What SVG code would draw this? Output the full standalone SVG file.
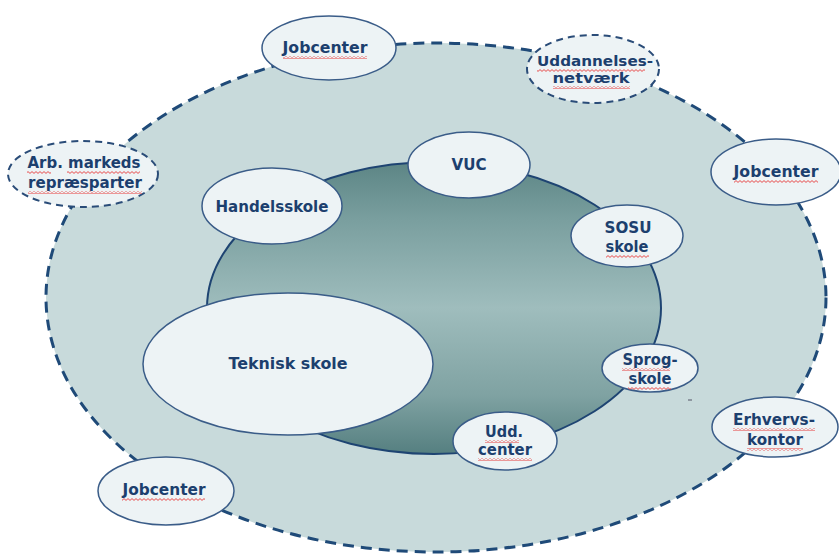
<svg xmlns="http://www.w3.org/2000/svg" width="839" height="554" viewBox="0 0 839 554">
<defs>
<linearGradient id="inner" x1="0" y1="0" x2="0" y2="1">
<stop offset="0" stop-color="#5c8585"/>
<stop offset="0.2" stop-color="#7a9f9f"/>
<stop offset="0.5" stop-color="#9fbdbd"/>
<stop offset="0.8" stop-color="#7fa2a2"/>
<stop offset="1" stop-color="#557f80"/>
</linearGradient>
<pattern id="squig" patternUnits="userSpaceOnUse" width="4" height="3">
<path d="M0,0.6 L2,2.4 L4,0.6" fill="none" stroke="#e83a3a" stroke-width="0.9"/>
</pattern>
<style>
.outer{fill:#c8dadb;stroke:#1f4a78;stroke-width:3;stroke-dasharray:11 7}
.ring{fill:url(#inner);stroke:#1e4472;stroke-width:2}
.node{fill:#edf3f5;stroke:#3a5c88;stroke-width:1.5}
.dnode{fill:#edf3f5;stroke:#2a4c78;stroke-width:2;stroke-dasharray:7 5}
.t{font-family:"DejaVu Sans","Verdana",sans-serif;font-weight:bold;font-size:15px;fill:#1c3f6e;text-anchor:middle}
.s{font-size:13.5px}
.sq{fill:url(#squig)}
</style>
</defs>
<g id="background">
<ellipse class="outer" cx="436" cy="297.5" rx="390" ry="254.5"/>
<ellipse class="ring" cx="434" cy="308" rx="227" ry="146"/>
<line x1="688" y1="400" x2="692" y2="400" stroke="#556" stroke-width="1"/>
</g>
<g id="connectors"></g>
<g id="jobcenter-top">
<ellipse class="node" cx="329" cy="48" rx="67" ry="32"/>
<text class="t" x="325" y="53" textLength="85" lengthAdjust="spacingAndGlyphs">Jobcenter</text>
<rect class="sq" x="283" y="56" width="84" height="3"/>
</g>
<g id="uddannelsesnetvaerk">
<ellipse class="dnode" cx="593" cy="69" rx="66" ry="34"/>
<text class="t s" x="595" y="66" textLength="116" lengthAdjust="spacingAndGlyphs">Uddannelses-</text>
<text class="t s" x="591" y="83" textLength="77" lengthAdjust="spacingAndGlyphs">netværk</text>
<rect class="sq" x="537" y="69" width="108" height="3"/>
<rect class="sq" x="553" y="86" width="77" height="3"/>
</g>
<g id="arb-markeds">
<ellipse class="dnode" cx="83" cy="174" rx="75" ry="33"/>
<text class="t" x="84" y="168" textLength="113" lengthAdjust="spacingAndGlyphs">Arb. markeds</text>
<text class="t" x="85" y="188" textLength="114" lengthAdjust="spacingAndGlyphs">repræsparter</text>
<rect class="sq" x="27" y="171" width="24" height="3"/>
<rect class="sq" x="67" y="171" width="73" height="3"/>
<rect class="sq" x="28" y="191" width="114" height="3"/>
</g>
<g id="handelsskole">
<ellipse class="node" cx="272" cy="206" rx="70" ry="38"/>
<text class="t" x="272" y="212" textLength="113" lengthAdjust="spacingAndGlyphs">Handelsskole</text>
</g>
<g id="vuc">
<ellipse class="node" cx="469" cy="165" rx="61" ry="33"/>
<text class="t" x="469" y="170" textLength="35" lengthAdjust="spacingAndGlyphs">VUC</text>
</g>
<g id="jobcenter-right">
<ellipse class="node" cx="776" cy="172" rx="65" ry="33"/>
<text class="t" x="776" y="177" textLength="85" lengthAdjust="spacingAndGlyphs">Jobcenter</text>
<rect class="sq" x="734" y="180" width="84" height="3"/>
</g>
<g id="sosu-skole">
<ellipse class="node" cx="627" cy="236" rx="56" ry="31"/>
<text class="t" x="628" y="233" textLength="47" lengthAdjust="spacingAndGlyphs">SOSU</text>
<text class="t" x="627" y="252" textLength="43" lengthAdjust="spacingAndGlyphs">skole</text>
<rect class="sq" x="606" y="255" width="43" height="3"/>
</g>
<g id="teknisk-skole">
<ellipse class="node" cx="288" cy="364" rx="145" ry="71"/>
<text class="t" x="288" y="369" textLength="119" lengthAdjust="spacingAndGlyphs">Teknisk skole</text>
</g>
<g id="sprogskole">
<ellipse class="node" cx="650" cy="368" rx="48" ry="24"/>
<text class="t" x="650" y="365" textLength="55" lengthAdjust="spacingAndGlyphs">Sprog-</text>
<text class="t" x="650" y="384" textLength="43" lengthAdjust="spacingAndGlyphs">skole</text>
<rect class="sq" x="622" y="368" width="48" height="3"/>
<rect class="sq" x="628" y="387" width="43" height="3"/>
</g>
<g id="udd-center">
<ellipse class="node" cx="505" cy="441" rx="52" ry="29"/>
<text class="t" x="504" y="437" textLength="38" lengthAdjust="spacingAndGlyphs">Udd.</text>
<text class="t" x="505" y="455" textLength="54" lengthAdjust="spacingAndGlyphs">center</text>
<rect class="sq" x="485" y="440" width="34" height="3"/>
<rect class="sq" x="478" y="458" width="54" height="3"/>
</g>
<g id="erhvervskontor">
<ellipse class="node" cx="775" cy="427" rx="63" ry="30"/>
<text class="t" x="774" y="425" textLength="82" lengthAdjust="spacingAndGlyphs">Erhvervs-</text>
<text class="t" x="775" y="445" textLength="56" lengthAdjust="spacingAndGlyphs">kontor</text>
<rect class="sq" x="733" y="428" width="82" height="3"/>
<rect class="sq" x="747" y="448" width="56" height="3"/>
</g>
<g id="jobcenter-bottom">
<ellipse class="node" cx="166" cy="491" rx="68" ry="34"/>
<text class="t" x="164" y="495" textLength="83" lengthAdjust="spacingAndGlyphs">Jobcenter</text>
<rect class="sq" x="122" y="498" width="83" height="3"/>
</g>
</svg>
